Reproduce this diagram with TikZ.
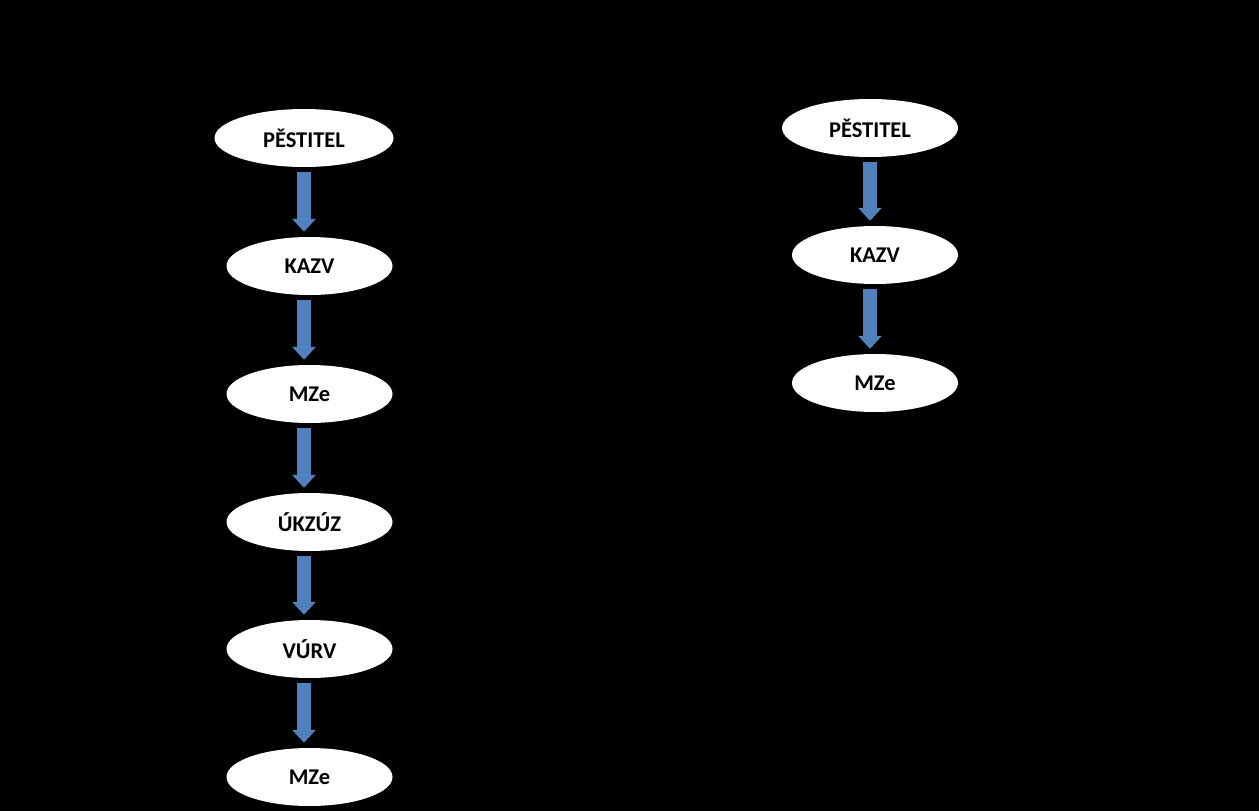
\documentclass[tikz,border=0pt]{standalone}
\usepackage{fontspec}
\setmainfont{Carlito}
\usetikzlibrary{shapes.geometric,arrows.meta}
\definecolor{arrowblue}{HTML}{4F81BD}
\tikzset{
  org/.style={ellipse,fill=white,draw=none,inner sep=0pt,minimum width=166pt,minimum height=58pt,
    font=\fontsize{22.5}{26}\selectfont\bfseries,text=black},
  blockarrow/.style={draw=arrowblue,line width=14pt,
    -{Triangle[width=23pt,length=13pt,fill=arrowblue]},shorten <=5pt,shorten >=5pt}
}
\begin{document}
\begin{tikzpicture}[x=1pt,y=-1pt]
\fill[black] (0,0) rectangle (1259,811);
\useasboundingbox (0,0) rectangle (1259,811);
% left column
\node[org,minimum width=179pt] (p1) at (304,138) {PĚSTITEL};
\node[org] (k1) at (309.5,266) {KAZV};
\node[org] (m1) at (309.5,394) {MZe};
\node[org] (u1) at (309.5,522) {ÚKZÚZ};
\node[org] (v1) at (309.5,649) {VÚRV};
\node[org] (m2) at (309.5,777) {MZe};
\draw[blockarrow] (p1.south) -- (p1.south |- k1.north);
\draw[blockarrow] (k1.south -| p1.south) -- (p1.south |- m1.north);
\draw[blockarrow] (m1.south -| p1.south) -- (p1.south |- u1.north);
\draw[blockarrow] (u1.south -| p1.south) -- (p1.south |- v1.north);
\draw[blockarrow] (v1.south -| p1.south) -- (p1.south |- m2.north);
% right column
\node[org,minimum width=176pt] (p2) at (870,128) {PĚSTITEL};
\node[org] (k2) at (875,255) {KAZV};
\node[org] (m3) at (875,383) {MZe};
\draw[blockarrow] (p2.south) -- (p2.south |- k2.north);
\draw[blockarrow] (k2.south -| p2.south) -- (p2.south |- m3.north);
\end{tikzpicture}
\end{document}
